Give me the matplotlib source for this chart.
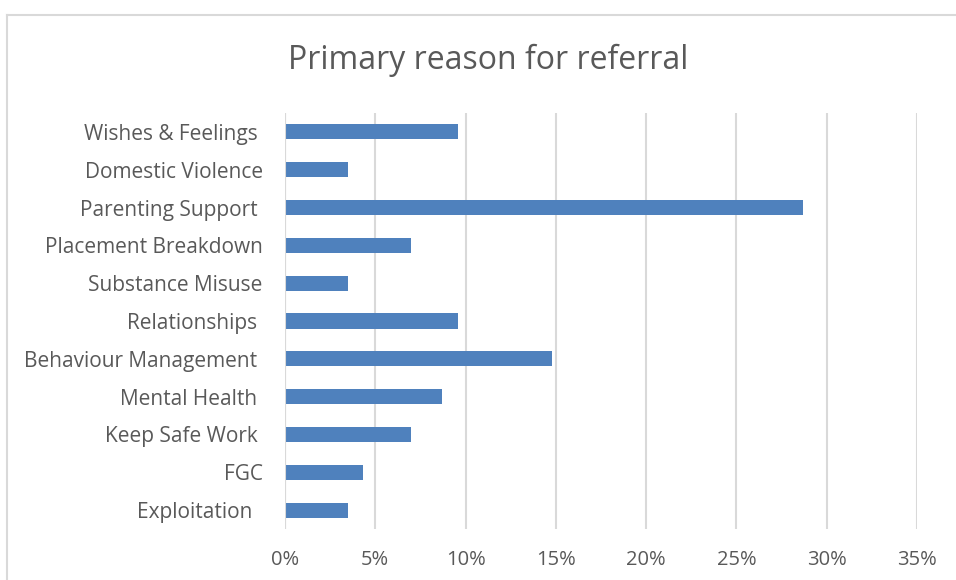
import matplotlib
matplotlib.use('Agg')
import matplotlib.pyplot as plt
from matplotlib.ticker import PercentFormatter, MultipleLocator
from matplotlib.lines import Line2D

# categories top -> bottom, as shown (trailing spaces as in the source labels)
reasons = ['Wishes & Feelings ', 'Domestic Violence', 'Parenting Support ',
           'Placement Breakdown', 'Substance Misuse', 'Relationships ',
           'Behaviour Management ', 'Mental Health ', 'Keep Safe Work ',
           'FGC', 'Exploitation  ']
share_pct = [9.6, 3.5, 28.7, 7.0, 3.5, 9.6, 14.8, 8.7, 7.0, 4.3, 3.5]

TEXT = '#595959'
GRID = '#D9D9D9'
BAR = '#4F81BD'
plt.rcParams['font.family'] = ['Open Sans', 'DejaVu Sans']

fig = plt.figure(figsize=(9.56, 5.8), dpi=100)
ax = fig.add_axes([285 / 956, 1 - 529 / 580, (917 - 285) / 956, (529 - 113) / 580])

ypos = list(range(len(reasons)))[::-1]
ax.barh(ypos, share_pct, height=0.4, color=BAR, zorder=3)
ax.set_ylim(-0.5, len(reasons) - 0.5)
ax.set_xlim(0, 35)
ax.xaxis.set_major_locator(MultipleLocator(5))
ax.xaxis.set_major_formatter(PercentFormatter(decimals=0))
ax.set_yticks(ypos)
ax.set_yticklabels(reasons)
ax.grid(axis='x', color=GRID, linewidth=1.5, zorder=0)
for s in ax.spines.values():
    s.set_visible(False)
ax.axvline(0, color=GRID, linewidth=1.5, zorder=4)
ax.tick_params(axis='both', length=0, colors=TEXT)
ax.tick_params(axis='x', pad=15, labelsize=14.5)
ax.tick_params(axis='y', pad=16, labelsize=15)

fig.text(488 / 956, 1 - 60 / 580, 'Primary reason for referral', ha='center',
         va='center', fontsize=23, color=TEXT)

# chart area border (left and top, the rest is cropped)
fig.add_artist(Line2D([7 / 956, 7 / 956], [0, 1 - 15 / 580], transform=fig.transFigure,
                      color=GRID, linewidth=1.5))
fig.add_artist(Line2D([7 / 956, 1], [1 - 15 / 580, 1 - 15 / 580], transform=fig.transFigure,
                      color=GRID, linewidth=1.5))

fig.savefig('out.png', dpi=100, facecolor='white')
